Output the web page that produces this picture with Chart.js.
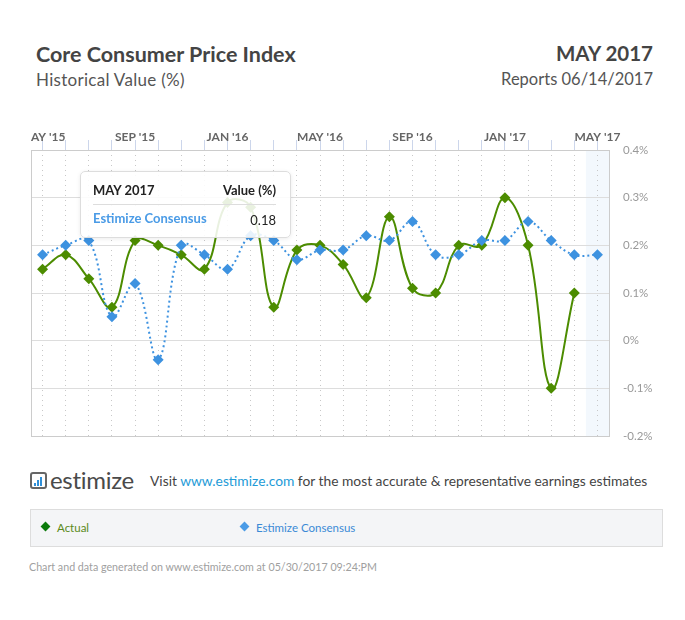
<!DOCTYPE html>
<html>
<head>
<meta charset="utf-8">
<script src="https://cdn.jsdelivr.net/npm/chart.js@4"></script>
<style>
  html, body { margin: 0; padding: 0; background: #fff; }
  body { width: 685px; height: 620px; position: relative; font-family: Lato, "Open Sans", sans-serif; overflow: hidden; }
  .abs { position: absolute; }
  #title { left: 36px; top: 41px; font-size: 21.5px; font-weight: 700; color: #444; }
  #subtitle { left: 36px; top: 69px; font-size: 17px; color: #555; letter-spacing: 0.3px; }
  #period { right: 32px; top: 41px; font-size: 20.5px; font-weight: 700; color: #444; }
  #reports { right: 32px; top: 69px; font-size: 16.5px; color: #555; }
  #wrap { left: 0; top: 120px; width: 685px; height: 330px; }
  #tip { left: 80px; top: 171px; width: 209px; height: 65px; background: rgba(255,255,255,0.88);
         border: 1px solid #ddd; border-radius: 5px; box-shadow: 0 1px 4px rgba(0,0,0,0.08); }
  #tip .r1 { position: absolute; left: 12px; right: 14px; top: 10px; font-size: 13px; font-weight: 700; color: #222;
             display: flex; justify-content: space-between; padding-bottom: 6px; border-bottom: 1px solid #ddd; }
  #tip .r2 { position: absolute; left: 12px; right: 14px; top: 38px; font-size: 13px; display: flex; justify-content: space-between; }
  #tip .r2 b { color: #4a9be6; font-weight: 700; }
  #tip .r2 span { color: #222; margin-top: 2px; }
  #logo { left: 30px; top: 467px; display: flex; align-items: center; }
  #logo .ic { width: 13px; height: 13px; border: 2px solid #666; border-radius: 3px; position: relative; margin-right: 3px; }
  #logo .ic i { position: absolute; bottom: 1px; width: 2px; background: #2f8fd8; }
  #logo .tx { font-size: 24px; color: #4a4a4a; line-height: 26px; letter-spacing: -0.3px; }
  #visit { left: 150px; top: 472px; font-size: 13.8px; color: #444; }
  #visit a { color: #1e9bd7; text-decoration: none; }
  #legend { left: 30px; top: 509px; width: 631px; height: 36px; background: #f4f5f7; border: 1px solid #ddd; font-size: 11.5px; }
  .lg { position: absolute; top: 11px; display: flex; align-items: center; }
  .dm { width: 7px; height: 7px; transform: rotate(45deg); margin-right: 8px; margin-top: -3px; }
  #foot { left: 29px; top: 560px; font-size: 10.7px; color: #a0a0a0; }
</style>
</head>
<body>
<div id="title" class="abs">Core Consumer Price Index</div>
<div id="subtitle" class="abs">Historical Value (%)</div>
<div id="period" class="abs">MAY 2017</div>
<div id="reports" class="abs">Reports 06/14/2017</div>

<div id="wrap" class="abs"><canvas id="chart"></canvas></div>

<div id="tip" class="abs">
  <div class="r1"><span>MAY 2017</span><span>Value (%)</span></div>
  <div class="r2"><b>Estimize Consensus</b><span>0.18</span></div>
</div>

<div id="logo" class="abs">
  <div class="ic"><i style="left:2px;height:3px"></i><i style="left:5px;height:6px"></i><i style="left:8px;height:9px"></i></div>
  <div class="tx">estimize</div>
</div>
<div id="visit" class="abs">Visit <a>www.estimize.com</a> for the most accurate &amp; representative earnings estimates</div>

<div id="legend" class="abs">
  <div class="lg" style="left:11px;color:#5a8a1a"><div class="dm" style="background:#0b7a0b"></div>Actual</div>
  <div class="lg" style="left:210px;color:#3a8ad6"><div class="dm" style="background:#4a9be6"></div>Estimize Consensus</div>
</div>
<div id="foot" class="abs">Chart and data generated on www.estimize.com at 05/30/2017 09:24:PM</div>

<script>
// ── data ────────────────────────────────────────────────────────────
const MONTHS = [
  "MAY '15", "JUN '15", "JUL '15", "AUG '15", "SEP '15", "OCT '15", "NOV '15", "DEC '15",
  "JAN '16", "FEB '16", "MAR '16", "APR '16", "MAY '16", "JUN '16", "JUL '16", "AUG '16",
  "SEP '16", "OCT '16", "NOV '16", "DEC '16", "JAN '17", "FEB '17", "MAR '17", "APR '17", "MAY '17",
];
const ACTUAL = [
  0.15, 0.18, 0.13, 0.07, 0.21, 0.20, 0.18, 0.15,
  0.29, 0.28, 0.07, 0.19, 0.20, 0.16, 0.09, 0.26,
  0.11, 0.10, 0.20, 0.20, 0.30, 0.20, -0.10, 0.10, null,
];
const CONSENSUS = [
  0.18, 0.20, 0.21, 0.05, 0.12, -0.04, 0.20, 0.18,
  0.15, 0.22, 0.21, 0.17, 0.19, 0.19, 0.22, 0.21,
  0.25, 0.18, 0.18, 0.21, 0.21, 0.25, 0.21, 0.18, 0.18,
];
const LABEL_EVERY = 4;
const Y_MIN = -0.2, Y_MAX = 0.4, Y_STEP = 0.1;

const GREEN = "#4c8c00";
const BLUE = "#3d92e0";

// ── plugins ────────────────────────────────────────────────────────
const decor = {
  id: "decor",
  beforeDraw(chart) {
    // highlighted last month band
    const { ctx, chartArea: a } = chart;
    const xs = chart.scales.x;
    const last = MONTHS.length - 1;
    const half = (xs.getPixelForValue(1) - xs.getPixelForValue(0)) / 2;
    const x0 = xs.getPixelForValue(last) - half;
    ctx.save();
    ctx.fillStyle = "#f3f8fd";
    ctx.fillRect(x0, a.top, a.right - x0, a.bottom - a.top);
    ctx.restore();
  },
  beforeDatasetsDraw(chart) {
    const { ctx, chartArea: a } = chart;
    ctx.save();
    ctx.strokeStyle = "#cccccc";
    ctx.lineWidth = 1;
    ctx.strokeRect(Math.round(a.left) + 0.5, Math.round(a.top) + 0.5, Math.round(a.right - a.left), Math.round(a.bottom - a.top));
    ctx.restore();
  },
  afterDraw(chart) {
    // month labels on top, clipped at the plot's left edge
    const { ctx, chartArea: a } = chart;
    const xs = chart.scales.x;
    ctx.save();
    ctx.beginPath();
    ctx.rect(a.left - 1, 0, chart.width, a.top);
    ctx.clip();
    ctx.font = "bold 12px Lato, 'Open Sans', sans-serif";
    ctx.fillStyle = "#666";
    ctx.textAlign = "center";
    ctx.textBaseline = "alphabetic";
    MONTHS.forEach((m, i) => {
      if (i % LABEL_EVERY === 0) ctx.fillText(m, xs.getPixelForValue(i), a.top - 9);
    });
    ctx.restore();
  },
};

// ── chart ──────────────────────────────────────────────────────────
new Chart(document.getElementById("chart"), {
  type: "line",
  data: {
    labels: MONTHS,
    datasets: [
      {
        label: "Estimize Consensus",
        data: CONSENSUS,
        borderColor: BLUE,
        backgroundColor: BLUE,
        borderWidth: 2,
        borderDash: [2, 3],
        tension: 0.4,
        pointStyle: "rectRot",
        pointRadius: 5.5,
        pointBorderWidth: 0,
        pointBackgroundColor: BLUE,
      },
      {
        label: "Actual",
        data: ACTUAL,
        borderColor: GREEN,
        backgroundColor: GREEN,
        borderWidth: 2,
        tension: 0.4,
        pointStyle: "rectRot",
        pointRadius: 5.5,
        pointBorderWidth: 0,
        pointBackgroundColor: GREEN,
      },
    ],
  },
  options: {
    responsive: true,
    maintainAspectRatio: false,
    animation: false,
    layout: { padding: { left: 31, top: 0, right: 0, bottom: 14 } },
    plugins: { legend: { display: false }, tooltip: { enabled: false } },
    scales: {
      x: {
        position: "top",
        offset: true,
        ticks: { display: false },
        grid: {
          offset: false,
          color: "#c8c8c8",
          lineWidth: 1,
          tickLength: 10,
          tickColor: "#ccd6eb",
          tickBorderDash: [],
        },
        border: { display: false, dash: [1, 4] },
        afterFit: (s) => { s.height = 30; },
      },
      y: {
        position: "right",
        min: Y_MIN,
        max: Y_MAX,
        ticks: {
          stepSize: Y_STEP,
          padding: 14,
          color: "#999",
          font: { family: "Lato, 'Open Sans', sans-serif", size: 11.5 },
          callback: (v) => Math.round(v * 10) / 10 + "%",
        },
        grid: { color: "#dddddd", drawTicks: false },
        border: { display: false },
        afterFit: (s) => {
          s.width = 76;
          s.paddingTop = 0;
          s.paddingBottom = 0;
        },
      },
    },
  },
  plugins: [decor],
});
</script>
</body>
</html>
